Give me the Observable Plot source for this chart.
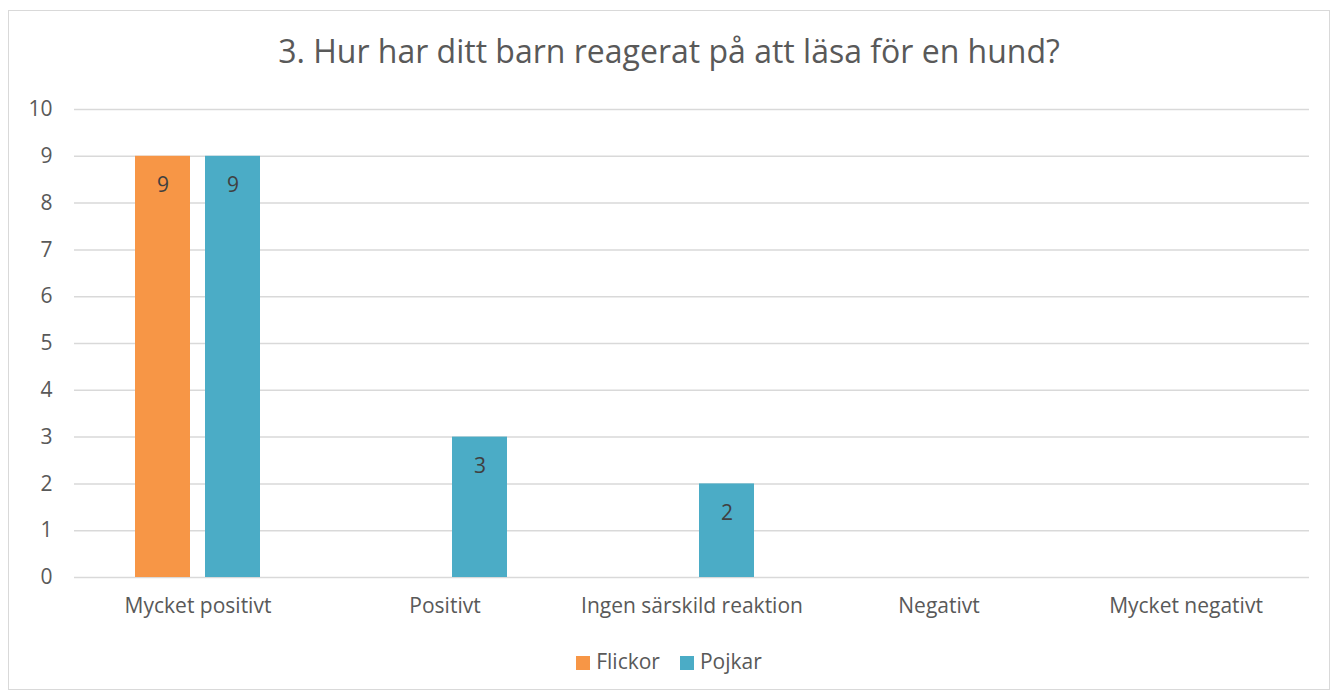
<!DOCTYPE html>
<html>
<head>
<meta charset="utf-8">
<script src="https://cdn.jsdelivr.net/npm/d3@7"></script>
<script src="https://cdn.jsdelivr.net/npm/@observablehq/plot@0.6"></script>
<style>
  body { margin: 0; background: #fff; font-family: "Open Sans", sans-serif; color: #595959; }
  #frame { position: absolute; left: 8px; top: 10px; width: 1320px; height: 678px; border: 1px solid #d9d9d9; }
  #title { height: 80px; line-height: 80px; text-align: center; font-size: 32px; color: #595959; }
  #legend { padding-top: 20px; height: 28px; line-height: 28px; text-align: center; font-size: 21px; color: #595959; }
  .sw { display: inline-block; width: 14px; height: 14px; margin-right: 6px; vertical-align: -1px; }
  .item { margin: 0 10px; }
</style>
</head>
<body>
<div id="frame">
  <div id="title">3. Hur har ditt barn reagerat på att läsa för en hund?</div>
  <div id="chart"></div>
  <div id="legend"></div>
</div>
<script>
const categories = ["Mycket positivt", "Positivt", "Ingen särskild reaktion", "Negativt", "Mycket negativt"];
const series = ["Flickor", "Pojkar"];
const colors = ["#F79646", "#4BACC6"];
const flickor = [9, null, null, null, null];
const pojkar = [9, 3, 2, null, null];
const yTicks = [0, 1, 2, 3, 4, 5, 6, 7, 8, 9, 10];

const data = [];
categories.forEach((c, i) => {
  data.push({category: c, series: "Flickor", value: flickor[i]});
  data.push({category: c, series: "Pojkar", value: pojkar[i]});
});
const labeled = data.filter(d => d.value != null);

const font = '"Open Sans", sans-serif';
const chart = Plot.plot({
  width: 1320,
  height: 536,
  marginLeft: 63,
  marginRight: 18,
  marginTop: 18,
  marginBottom: 50,
  style: {fontFamily: font, fontSize: "21px", color: "#595959", background: "transparent"},
  fx: {domain: categories, padding: 0, label: null},
  x: {domain: series, paddingInner: 0.211, paddingOuter: 0.849, axis: null},
  y: {domain: [0, 10], label: null},
  color: {domain: series, range: colors},
  marks: [
    Plot.ruleY(yTicks, {stroke: "#d9d9d9", strokeWidth: 1.5}),
    Plot.barY(data, {fx: "category", x: "series", y: d => d.value ?? 0, fill: "series"}),
    Plot.text(labeled, {fx: "category", x: "series", y: "value", text: d => String(d.value), dy: 29, fill: "#404040", fontSize: 21}),
    Plot.axisY({ticks: yTicks, tickSize: 0, tickPadding: 22, fontSize: 21, fill: "#595959"}),
    Plot.axisFx({anchor: "bottom", tickSize: 0, tickPadding: 21, fontSize: 21, fill: "#595959", label: null})
  ]
});
document.getElementById("chart").appendChild(chart);

const legend = document.getElementById("legend");
series.forEach((s, i) => {
  const span = document.createElement("span");
  span.className = "item";
  span.innerHTML = `<span class="sw" style="background:${colors[i]}"></span>${s}`;
  legend.appendChild(span);
});
</script>
</body>
</html>
